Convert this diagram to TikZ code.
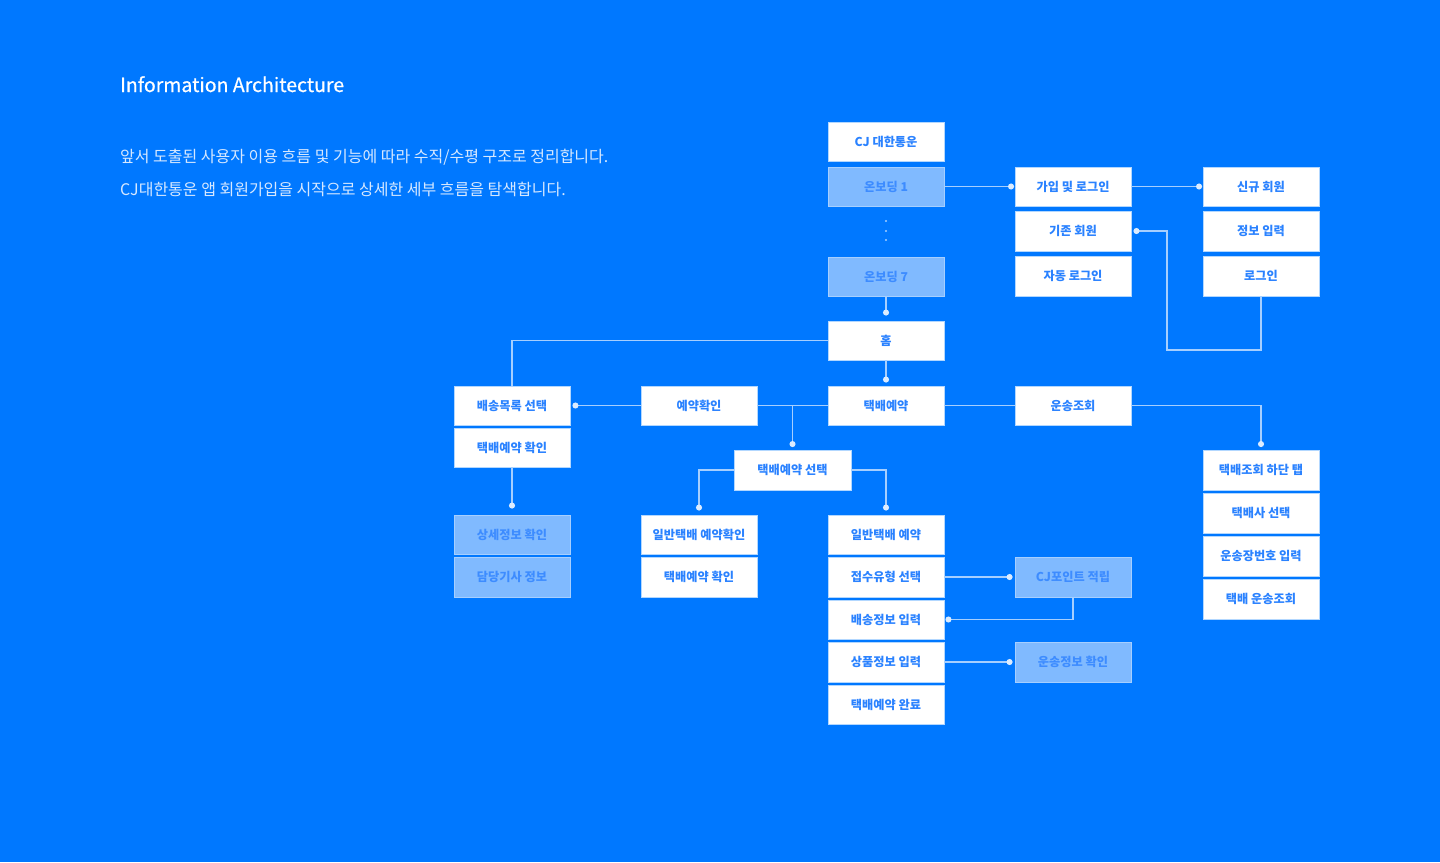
\documentclass[tikz,border=0pt]{standalone}
\usepackage{fontspec}
\usetikzlibrary{arrows.meta}
\setmainfont{Noto Sans CJK KR}
\newfontfamily\titlefont[FakeBold=0.6]{Noto Sans CJK KR}
\definecolor{bg}{HTML}{0078FF}
\definecolor{lightbox}{HTML}{80BAFF}
\definecolor{boxtext}{HTML}{2A82FF}
\definecolor{lighttext}{HTML}{3D8CFF}
\definecolor{linecol}{HTML}{A6CFFF}
\definecolor{dotcol}{HTML}{DCECFF}
\definecolor{bodytext}{HTML}{D6E8FF}

\begin{document}
\begin{tikzpicture}[x=1pt,y=-1pt,
  box/.style={draw=white!70!bg, fill=white, text=boxtext, minimum width=116.5pt,
    minimum height=39.5pt, inner sep=0pt, font=\fontsize{12.2}{14}\selectfont\bfseries},
  lbox/.style={box, fill=lightbox, draw=lightbox!70!white, text=lighttext},
  link/.style={draw=linecol, line width=1.1pt},
  dotend/.style={-{Circle[length=6pt, color=dotcol]}, shorten >=#1},
  dotstart/.style={{Circle[length=6pt, color=dotcol]}-, shorten <=#1}]
\fill [bg] (0,0) rectangle (1440,862);
\useasboundingbox (0,0) rectangle (1440,862);

\node [anchor=base west, white, inner sep=0pt, font=\titlefont\fontsize{19.5}{22}\selectfont] (title) at (120,92) {Information Architecture};
\node [anchor=base west, bodytext, font=\fontsize{16}{18}\selectfont, inner sep=0pt] (line1) at (120,162) {앞서 도출된 사용자 이용 흐름 및 기능에 따라 수직/수평 구조로 정리합니다.};
\node [anchor=base west, bodytext, font=\fontsize{16}{18}\selectfont, inner sep=0pt] (line2) at (120,195) {CJ대한통운 앱 회원가입을 시작으로 상세한 세부 흐름을 탐색합니다.};

% main column
\node [box] (cj) at (886,141.5) {CJ 대한통운};
\node [lbox] (ob1) at (886,186.5) {온보딩 1};
\node [lbox] (ob7) at (886,276.5) {온보딩 7};
\node [box] (home) at (886,340.5) {홈};
\node [box] (rsv) at (886,405.5) {택배예약};
\node [box] (greq) at (886,534.5) {일반택배 예약};
\node [box] (rtype) at (886,577) {접수유형 선택};
\node [box] (ship) at (886,619.5) {배송정보 입력};
\node [box] (goods) at (886,662) {상품정보 입력};
\node [box] (done) at (886,704.5) {택배예약 완료};
\foreach \y in {221,231,240}
  \fill [linecol] (886,\y) circle [radius=1.2];

% sign up / login
\node [box] (join) at (1073,186.5) {가입 및 로그인};
\node [box] (exist) at (1073,231) {기존 회원};
\node [box] (auto) at (1073,276) {자동 로그인};
\node [box] (newm) at (1261,186.5) {신규 회원};
\node [box] (info) at (1261,231) {정보 입력};
\node [box] (login) at (1261,276) {로그인};

% tracking
\node [box] (track) at (1073,405.5) {운송조회};
\node [box] (tab) at (1261,470) {택배조회 하단 탭};
\node [box] (carrier) at (1261,513) {택배사 선택};
\node [box] (invoice) at (1261,556) {운송장번호 입력};
\node [box] (ptrack) at (1261,599) {택배 운송조회};
\node [lbox] (point) at (1073,577) {CJ포인트 적립};
\node [lbox] (tinfo) at (1073,662) {운송정보 확인};

% reservation check
\node [box] (list) at (512,405.5) {배송목록 선택};
\node [box] (lconf) at (512,447.5) {택배예약 확인};
\node [lbox] (detail) at (512,534.5) {상세정보 확인};
\node [lbox] (driver) at (512,577) {담당기사 정보};
\node [box] (rcheck) at (699,405.5) {예약확인};
\node [box] (sel) at (792.5,470) {택배예약 선택};
\node [box] (gcheck) at (699,534.5) {일반택배 예약확인};
\node [box] (gconf) at (699,577) {택배예약 확인};

% connectors
\draw [link, dotend=0.5pt] (ob1.east) -- (join.west);
\draw [link, dotend=0.5pt] (join.east) -- (newm.west);
\draw [link, dotstart=2pt] (exist.east) -| (1167,350) -| (login.south);
\draw [link, dotend=5pt] (ob7.south) -- (home.north);
\draw [link, dotend=3pt] (home.south) -- (rsv.north);
\draw [link] (home.west) -| (list.north);
\draw [link, dotend=2pt] (rcheck.west) -- (list.east);
\draw [link] (rcheck.east) -- (rsv.west);
\draw [link, dotend=3pt] (sel.north |- rcheck.east) -- (sel.north);
\draw [link] (rsv.east) -- (track.west);
\draw [link, dotend=3pt] (track.east) -| (tab.north);
\draw [link, dotend=4pt] (sel.west) -| (gcheck.north);
\draw [link, dotend=4pt] (sel.east) -| (greq.north);
\draw [link, dotend=6pt] (lconf.south) -- (detail.north);
\draw [link, dotend=2pt] (rtype.east) -- (point.west);
\draw [link, dotend=1pt] (point.south) |- (ship.east);
\draw [link, dotend=2pt] (goods.east) -- (tinfo.west);
\end{tikzpicture}
\end{document}
